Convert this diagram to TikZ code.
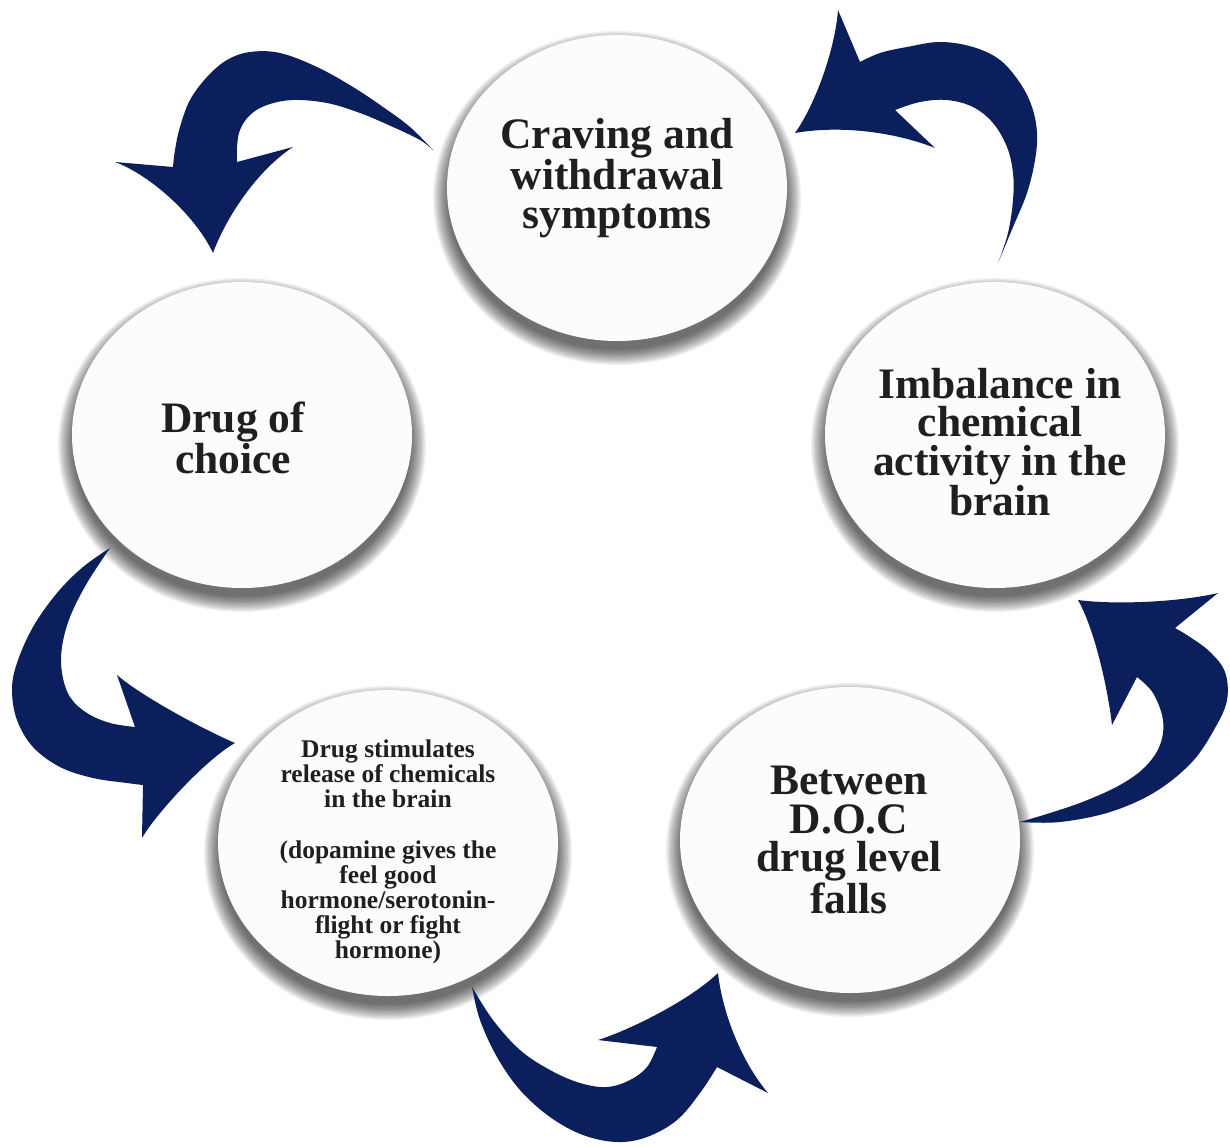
\documentclass[tikz,border=0pt]{standalone}
\usepackage{fontspec}
\setmainfont{Liberation Serif}
\usetikzlibrary{shapes.geometric}
\definecolor{navy}{RGB}{10,31,91}
\definecolor{bubblefill}{RGB}{252,252,252}
\begin{document}
\begin{tikzpicture}[x=1pt,y=-1pt,
  bubble/.style={ellipse, fill=bubblefill, minimum width=340pt, minimum height=306pt, inner sep=0pt},
  bigtxt/.style={align=center, font=\fontsize{43.5}{38.5}\selectfont\bfseries, text=black!88, inner sep=0pt},
  smalltxt/.style={align=center, font=\fontsize{25.5}{25.2}\selectfont\bfseries, text=black!88, inner sep=0pt},
  arrowshape/.style={fill=navy},
  shadowlayer/.style={fill=black, opacity=0.058}]

\fill[white] (0,0) rectangle (1230,1146);
\useasboundingbox (0,0) rectangle (1230,1146);

% soft shadows under the bubbles
\foreach \cx/\cy in {617/188, 242/435, 995/435, 850/840, 388/843}{
  \foreach \k in {0,...,12}{
    \fill[shadowlayer] (\cx,\cy+10) ellipse [x radius={184-1.3*\k}, y radius={167-1.3*\k}];
  }
}

% arrow A: craving -> drug of choice
\fill[arrowshape] plot[smooth, tension=0.6] coordinates {(433,150) (410,127) (383,107) (353,87) (317,67) (280,53) (250,52) (227,60) (207,77) (190,100) (180,127) (175,150) (173,167)}
  -- (115,162) .. controls (150,175) and (195,215) .. (213,253)
  .. controls (225,220) and (255,172) .. (293,147) -- (237,162)
  -- plot[smooth, tension=0.6] coordinates {(237,162) (237,147) (240,130) (250,115) (267,105) (293,100) (327,103) (360,113) (393,127) (420,140) (433,150)} -- cycle;

% arrow B: imbalance -> craving
\fill[arrowshape] plot[smooth, tension=0.6] coordinates {(998,263) (1013,227) (1027,193) (1035,160) (1037,133) (1032,107) (1020,83) (1000,60) (973,47) (940,42) (907,47) (880,53) (860,62)}
  -- (838,10) .. controls (835,50) and (815,105) .. (795,133)
  .. controls (840,125) and (895,132) .. (935,148) -- (895,110)
  -- plot[smooth, tension=0.6] coordinates {(895,110) (920,102) (947,100) (973,107) (993,123) (1007,147) (1013,173) (1013,200) (1008,233) (998,263)} -- cycle;

% arrow C: drug of choice -> drug stimulates
\fill[arrowshape] plot[smooth, tension=0.6] coordinates {(110,548) (83,567) (57,593) (33,627) (17,663) (12,690) (17,720) (33,747) (60,767) (93,778) (127,783) (143,785)}
  -- (142,838) .. controls (155,815) and (205,760) .. (235,743)
  .. controls (200,728) and (140,695) .. (117,675) -- (135,727)
  -- plot[smooth, tension=0.6] coordinates {(135,727) (110,723) (87,713) (70,697) (62,673) (62,647) (70,617) (87,583) (110,548)} -- cycle;

% arrow D: between -> imbalance
\fill[arrowshape] plot[smooth, tension=0.6] coordinates {(1020,822) (1060,822) (1110,812) (1155,792) (1192,762) (1215,728) (1227,700) (1225,672) (1210,652) (1190,637) (1175,628)}
  -- (1218,593) .. controls (1180,602) and (1115,605) .. (1078,600)
  .. controls (1095,630) and (1108,690) .. (1112,725) -- (1137,677)
  -- plot[smooth, tension=0.6] coordinates {(1137,677) (1153,693) (1163,720) (1160,745) (1145,767) (1120,785) (1085,801) (1050,813) (1020,822)} -- cycle;

% arrow E: drug stimulates -> between
\fill[arrowshape] plot[smooth, tension=0.6] coordinates {(472,987) (480,1020) (497,1057) (520,1090) (550,1117) (583,1135) (617,1142) (647,1137) (677,1120) (700,1093) (717,1067)}
  -- (768,1093) .. controls (740,1060) and (722,1010) .. (718,973)
  .. controls (690,1000) and (630,1030) .. (598,1040) -- (657,1047)
  -- plot[smooth, tension=0.6] coordinates {(657,1047) (647,1067) (630,1080) (607,1087) (580,1083) (550,1070) (520,1050) (493,1020) (472,987)} -- cycle;

% bubbles
\node[bubble] (crave) at (617,188) {};
\node[bubble] (doc) at (242,435) {};
\node[bubble] (imb) at (995,435) {};
\node[bubble] (betw) at (850,840) {};
\node[bubble] (stim) at (388,843) {};

% texts
\node[bigtxt] (tcrave) at (617,178) {Craving and\\withdrawal\\symptoms};
\node[bigtxt] (tdoc) at (233,438) {Drug of\\choice};
\node[bigtxt] (timb) at (1000,442) {Imbalance in\\chemical\\activity in the\\brain};
\node[bigtxt] (tbetw) at (849,840) {Between\\D.O.C\\drug level\\falls};
\node[smalltxt] (tstim) at (388,852) {Drug stimulates\\release of chemicals\\in the brain\\[25.2pt](dopamine gives the\\feel good\\hormone/serotonin-\\flight or fight\\hormone)};
\end{tikzpicture}
\end{document}
